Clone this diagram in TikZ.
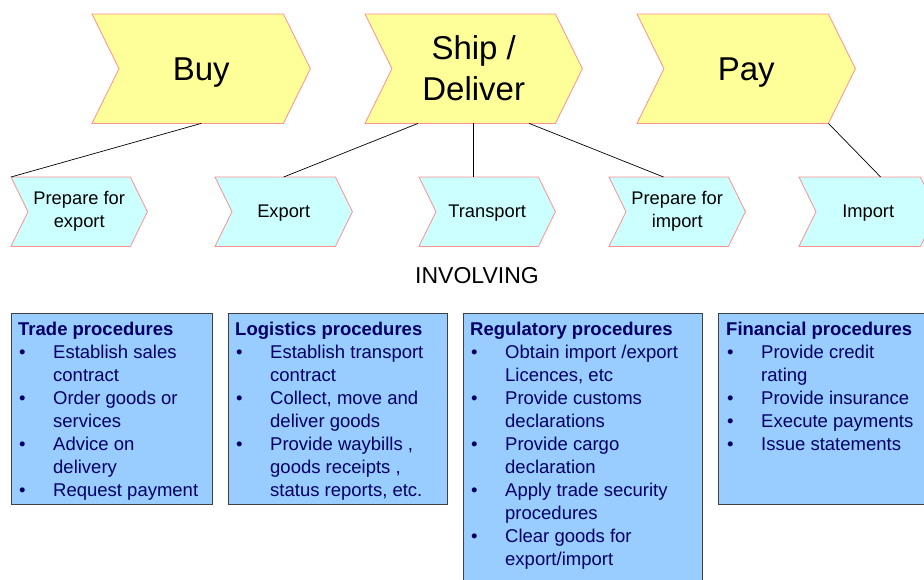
\documentclass[tikz,border=0pt]{standalone}
\usepackage{fontspec}
\setmainfont{Liberation Sans}
\usetikzlibrary{calc}
\pgfdeclarelayer{background}
\pgfsetlayers{background,main}
\definecolor{chevyellow}{HTML}{FFFF99}
\definecolor{chevcyan}{HTML}{CCFFFF}
\definecolor{chevedge}{HTML}{FF9090}
\definecolor{boxblue}{HTML}{99CCFF}
\definecolor{boxedge}{HTML}{404040}
\definecolor{navytext}{HTML}{000066}

\newcommand{\chev}[8]{%
  \node[#7, minimum width=#4+#6, minimum height=#5, anchor=north west] (#1) at (#2,#3) {#8};
  \begin{pgfonlayer}{background}
    \draw[#7 shape] (#1.north west) -- ([xshift=-#6 pt]#1.north east) -- (#1.east)
      -- ([xshift=-#6 pt]#1.south east) -- (#1.south west) -- ([xshift=#6 pt]#1.west) -- cycle;
  \end{pgfonlayer}}
\newcommand{\bul}[1]{\makebox[35pt][l]{\hspace{1pt}\textbullet}#1}
\newcommand{\cont}[1]{\hspace*{35pt}#1}

\tikzset{
  bigchev/.style={inner sep=0pt, align=center, font=\fontsize{33}{41}\selectfont},
  bigchev shape/.style={fill=chevyellow, draw=chevedge, line width=0.8pt},
  bigchevone/.style={bigchev, text depth=0pt},
  bigchevone shape/.style={bigchev shape},
  smallchev/.style={inner sep=0pt, align=center, font=\fontsize{18.3}{23}\selectfont},
  smallchev shape/.style={fill=chevcyan, draw=chevedge, line width=0.8pt},
  smallchevone/.style={smallchev, text depth=0pt},
  smallchevone shape/.style={smallchev shape},
  conn/.style={draw=black, line width=0.7pt},
  procbox/.style={fill=boxblue, draw=boxedge, line width=0.9pt, inner sep=0pt, anchor=north west},
  proctext/.style={inner sep=0pt, anchor=base west, text=navytext, font=\fontsize{18.5}{23}\selectfont},
}

\begin{document}
\begin{tikzpicture}[x=1pt, y=-1pt]
\useasboundingbox (0,0) rectangle (924,579);

% big chevrons
\chev{buy}{92}{14}{191}{109}{27}{bigchevone}{Buy}
\chev{ship}{365}{14}{190}{109}{27}{bigchev}{Ship /\\Deliver}
\chev{pay}{637}{14}{191}{109}{27}{bigchevone}{Pay}

% small chevrons
\chev{prepexp}{11}{177}{119}{69}{17}{smallchev}{Prepare for\\export}
\chev{export}{215}{177}{120}{69}{17}{smallchevone}{Export}
\chev{transport}{419}{177}{119}{69}{17}{smallchevone}{Transport}
\chev{prepimp}{609}{177}{119}{69}{17}{smallchev}{Prepare for\\import}
\chev{import}{799}{177}{121}{69}{17}{smallchevone}{Import}

% connectors
\draw[conn] (buy.south) -- (prepexp.north west);
\draw[conn] ($(ship.south west)!0.244!(ship.south east)$) -- (export.north);
\draw[conn] (ship.south) -- (ship.south |- transport.north);
\draw[conn] ($(ship.south west)!0.755!(ship.south east)$) -- ($(prepimp.north west)!0.4!(prepimp.north east)$);
\draw[conn] ([xshift=-27pt]pay.south east) -- ($(import.north west)!0.59!(import.north east)$);

% involving
\node[inner sep=0pt, anchor=base, font=\fontsize{23}{28}\selectfont] (inv) at (477,283) {INVOLVING};

% boxes
\node[procbox, minimum width=201pt, minimum height=191pt] (trade) at (11,313) {};
\node[procbox, minimum width=219pt, minimum height=191pt] (logi) at (228,313) {};
\node[procbox, minimum width=239pt, minimum height=290pt] (regu) at (463,313) {};
\node[procbox, minimum width=215pt, minimum height=191pt] (fina) at (718,313) {};

\node[proctext] (tradetxt) at (18,335) {\begin{tabular}[t]{@{}l@{}}
\textbf{Trade procedures}\\
\bul{Establish sales}\\
\cont{contract}\\
\bul{Order goods or}\\
\cont{services}\\
\bul{Advice on}\\
\cont{delivery}\\
\bul{Request payment}
\end{tabular}};

\node[proctext] (logitxt) at (235,335) {\begin{tabular}[t]{@{}l@{}}
\textbf{Logistics procedures}\\
\bul{Establish transport}\\
\cont{contract}\\
\bul{Collect, move and}\\
\cont{deliver goods}\\
\bul{Provide waybills ,}\\
\cont{goods receipts ,}\\
\cont{status reports, etc.}
\end{tabular}};

\node[proctext] (regutxt) at (470,335) {\begin{tabular}[t]{@{}l@{}}
\textbf{Regulatory  procedures}\\
\bul{Obtain import /export}\\
\cont{Licences, etc}\\
\bul{Provide customs}\\
\cont{declarations}\\
\bul{Provide cargo}\\
\cont{declaration}\\
\bul{Apply trade security}\\
\cont{procedures}\\
\bul{Clear goods for}\\
\cont{export/import}
\end{tabular}};

\node[proctext] (finatxt) at (726,335) {\begin{tabular}[t]{@{}l@{}}
\textbf{Financial procedures}\\
\bul{Provide credit}\\
\cont{rating}\\
\bul{Provide insurance}\\
\bul{Execute payments}\\
\bul{Issue statements}
\end{tabular}};
\end{tikzpicture}
\end{document}
